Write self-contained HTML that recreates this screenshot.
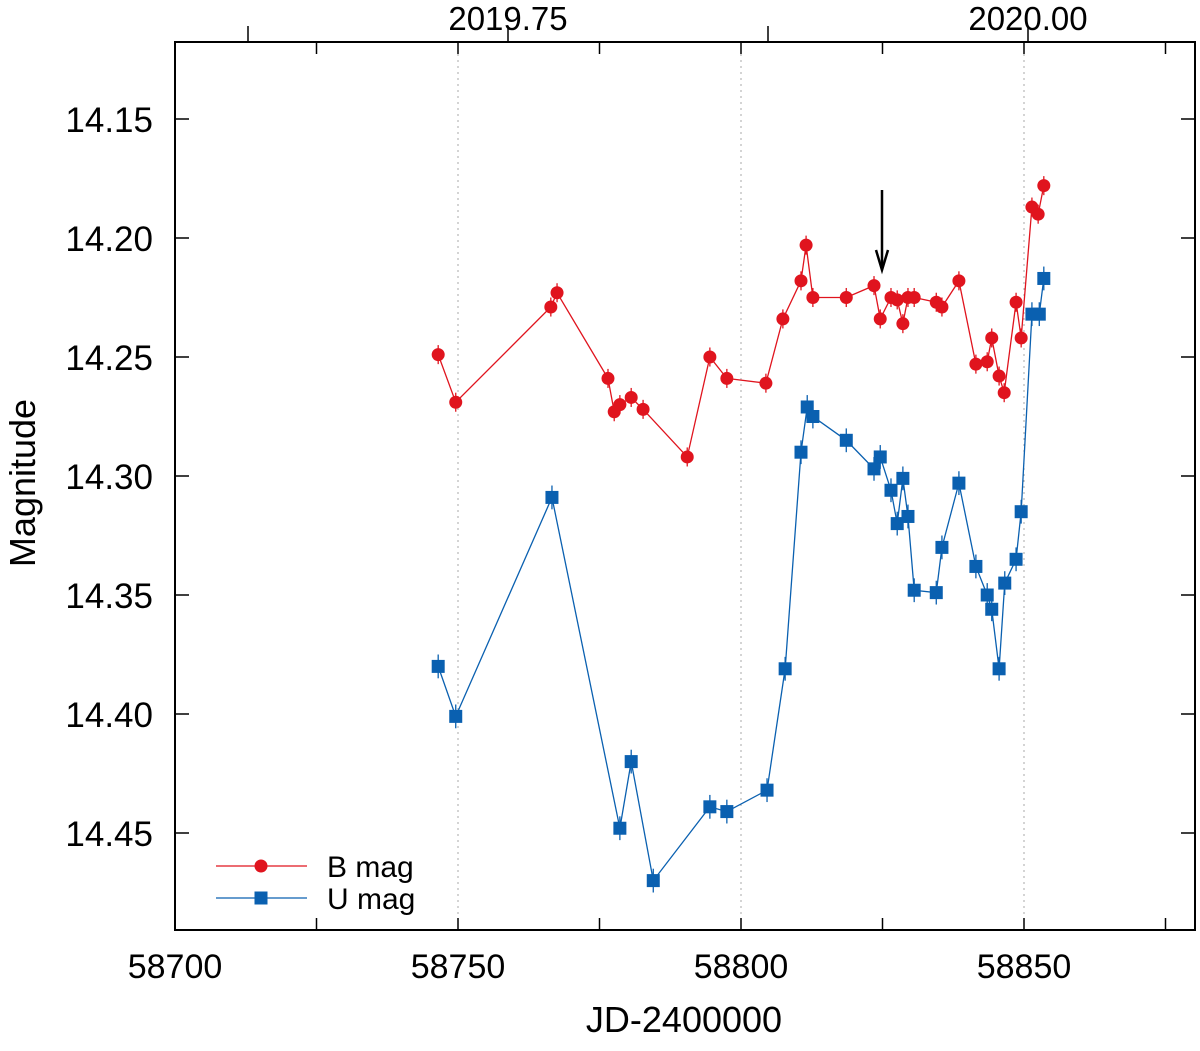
<!DOCTYPE html>
<html><head><meta charset="utf-8"><style>
body{margin:0;background:#fff;}
svg text{font-family:"Liberation Sans",Arial,sans-serif;fill:#000;}
</style></head><body>
<svg id="chart" width="1200" height="1046" xmlns="http://www.w3.org/2000/svg">
<g id="grid"></g><g id="axes"></g><g id="series"></g><g id="legend"></g>
</svg>
<script>
const bJD=[46.5,49.6,66.4,67.5,76.5,77.6,78.6,80.6,82.7,90.5,94.5,97.5,104.4,107.4,110.6,111.5,112.7,118.6,123.5,124.6,126.5,127.6,128.6,129.5,130.6,134.5,135.5,138.5,141.5,143.5,144.3,145.6,146.5,148.6,149.5,151.4,152.5,153.5];
const bMag=[14.249,14.269,14.229,14.223,14.259,14.273,14.270,14.267,14.272,14.292,14.250,14.259,14.261,14.234,14.218,14.203,14.225,14.225,14.220,14.234,14.225,14.226,14.236,14.225,14.225,14.227,14.229,14.218,14.253,14.252,14.242,14.258,14.265,14.227,14.242,14.187,14.190,14.178];
const uJD=[46.5,49.6,66.6,78.6,80.6,84.5,94.5,97.5,104.6,107.8,110.6,111.7,112.7,118.6,123.5,124.6,126.5,127.6,128.6,129.5,130.6,134.5,135.5,138.5,141.5,143.5,144.3,145.6,146.6,148.6,149.5,151.4,152.7,153.5];
const uMag=[14.380,14.401,14.309,14.448,14.420,14.470,14.439,14.441,14.432,14.381,14.290,14.271,14.275,14.285,14.297,14.292,14.306,14.320,14.301,14.317,14.348,14.349,14.330,14.303,14.338,14.350,14.356,14.381,14.345,14.335,14.315,14.232,14.232,14.217];
const xTicks=[58700,58750,58800,58850];
const yTicks=[14.15,14.20,14.25,14.30,14.35,14.40,14.45];
const topTicks=["2019.75","2020.00"];
const errB=0.004, errU=0.005;
const L=175,R=1195,T=42,B=930;
const X=jd=>L+(jd-58700)*5.66;
const Y=m=>119+(m-14.15)*2380;
const NS="http://www.w3.org/2000/svg";
function mk(tag,attrs,parent){const e=document.createElementNS(NS,tag);for(const k in attrs)e.setAttribute(k,attrs[k]);parent.appendChild(e);return e;}
const grid=document.getElementById('grid'),axes=document.getElementById('axes'),ser=document.getElementById('series'),leg=document.getElementById('legend');
[58750,58800,58850].forEach(v=>{const l=mk('line',{x1:X(v),x2:X(v),y1:T,y2:B,stroke:'#aaa','stroke-dasharray':'2,4','stroke-width':1},grid);

});
const fr=mk('rect',{x:L,y:T,width:R-L,height:B-T,fill:'none',stroke:'#000','stroke-width':2},axes);


for(let v=58700;v<=58875;v+=25){const x=X(v);mk('line',{x1:x,x2:x,y1:B,y2:B-12,stroke:'#000','stroke-width':1.5},axes);mk('line',{x1:x,x2:x,y1:T,y2:T+12,stroke:'#000','stroke-width':1.5},axes);}
xTicks.forEach(v=>{const t=mk('text',{x:X(v),y:978,'font-size':34,'text-anchor':'middle'},axes);t.textContent=v;

});
yTicks.forEach(v=>{const y=Y(v);mk('line',{x1:L,x2:L+14,y1:y,y2:y,stroke:'#000','stroke-width':1.5},axes);mk('line',{x1:R,x2:R-14,y1:y,y2:y,stroke:'#000','stroke-width':1.5},axes);});
yTicks.forEach(v=>{const t=mk('text',{x:153,y:Y(v)+13,'font-size':35,'text-anchor':'end'},axes);t.textContent=v.toFixed(2);

});
[248,508,768,1028].forEach(x=>mk('line',{x1:x,x2:x,y1:T,y2:T-16,stroke:'#000','stroke-width':1.5},axes));
[[508,topTicks[0]],[1028,topTicks[1]]].forEach(([x,s])=>{const t=mk('text',{x:x,y:30,'font-size':33,'text-anchor':'middle'},axes);t.textContent=s;

});
const xt=mk('text',{x:684,y:1032,'font-size':36,'text-anchor':'middle'},axes);xt.textContent='JD-2400000';


const yt=mk('text',{x:0,y:0,'font-size':36,'text-anchor':'middle',transform:'translate(35,483) rotate(-90)'},axes);yt.textContent='Magnitude';


function series(jd,mag,err,color,shape,name){
 const pts=jd.map((d,i)=>X(58700+d)+','+Y(mag[i])).join(' ');
 const pl=mk('polyline',{points:pts,fill:'none',stroke:color,'stroke-width':1.3},ser);
 
 
 jd.forEach((d,i)=>{const x=X(58700+d),y=Y(mag[i]);
  mk('line',{x1:x,x2:x,y1:Y(mag[i]-err),y2:Y(mag[i]+err),stroke:color,'stroke-width':1.3},ser);
  let m;
  if(shape==='c')m=mk('circle',{cx:x,cy:y,r:6.5,fill:color},ser);
  else m=mk('rect',{x:x-6.5,y:y-6.5,width:13,height:13,fill:color},ser);
  
  });
}
series(bJD,bMag,errB,'#e0141e','c','b-mag');
series(uJD,uMag,errU,'#0a60b0','s','u-mag');
const ar=mk('g',{},ser);


mk('line',{x1:882,x2:882,y1:190,y2:268,stroke:'#000','stroke-width':2.5},ar);
mk('polyline',{points:'876,250 882,270 888,250',fill:'none',stroke:'#000','stroke-width':2.5},ar);
[['B mag','#e0141e','c',866],['U mag','#0a60b0','s',898]].forEach(([s,c,sh,y])=>{
 const g=mk('g',{},leg);
 
 
 mk('line',{x1:216,x2:307,y1:y,y2:y,stroke:c,'stroke-width':1.3},g);
 if(sh==='c')mk('circle',{cx:261,cy:y,r:6.5,fill:c},g);else mk('rect',{x:254.5,y:y-6.5,width:13,height:13,fill:c},g);
 const t=mk('text',{x:327,y:y+11,'font-size':30},g);t.textContent=s;});
</script>
</body></html>
